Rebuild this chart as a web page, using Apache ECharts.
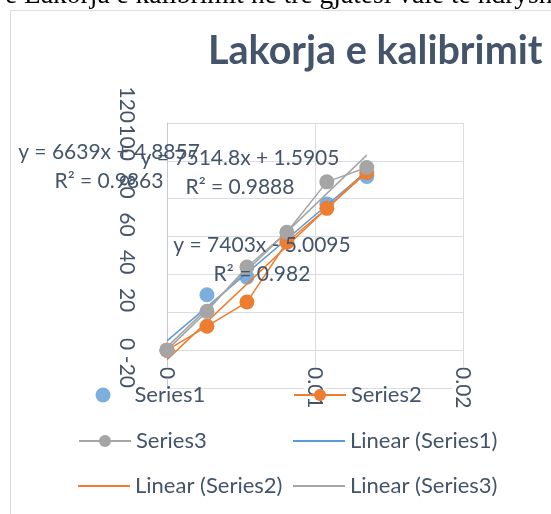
<!DOCTYPE html>
<html>
<head>
<meta charset="utf-8">
<script src="https://cdn.jsdelivr.net/npm/echarts@6/dist/echarts.min.js"></script>
<style>
  html, body { margin: 0; padding: 0; background: #fff; }
  #chart { width: 551px; height: 514px; }
</style>
</head>
<body>
<div id="chart"></div>
<script>
// Concentrations (x) and measured signals for the three wavelengths
const concentrations = [0, 0.0027, 0.0054, 0.0081, 0.0108, 0.0135];
const series1 = [0, 29.3, 38.6, 58.8, 77.2, 91.7];
const series2 = [0, 12.6, 25.4, 57.0, 74.9, 93.9];
const series3 = [0, 20.5, 43.9, 62.3, 88.9, 96.5];

// Linear trendline coefficients (y = slope * x + intercept) and R²
const trendSlopes = [6639, 7403, 7514.8];
const trendIntercepts = [4.8857, -5.0095, 1.5905];
const trendR2 = [0.9863, 0.982, 0.9888];

// Axis settings
const xMin = 0, xMax = 0.02, xStep = 0.01;
const yMin = -20, yMax = 120, yStep = 20;

const seriesNames = ['Series1', 'Series2', 'Series3'];
const trendNames = ['Linear (Series1)', 'Linear (Series2)', 'Linear (Series3)'];
const colors = ['#5B9BD5', '#ED7D31', '#A5A5A5'];
const textColor = '#44546A';
const font = 'Lato';

const pairs = ys => concentrations.map((x, i) => [x, ys[i]]);
const xFirst = concentrations[0];
const xLast = concentrations[concentrations.length - 1];
const trendData = k => [
  [xFirst, trendSlopes[k] * xFirst + trendIntercepts[k]],
  [xLast, trendSlopes[k] * xLast + trendIntercepts[k]]
];
const eqText = k => 'y = ' + trendSlopes[k] + 'x ' + (trendIntercepts[k] >= 0 ? '+ ' : '- ') +
  Math.abs(trendIntercepts[k]) + '\nR² = ' + trendR2[k];

const chart = echarts.init(document.getElementById('chart'), null, { renderer: 'canvas' });

const legendText = { fontFamily: font, fontSize: 22, color: textColor };

// legend entry for a marker + line series
const legendLine = (name, left, top) => ({
  data: [name], left: left, top: top, padding: 0,
  itemWidth: 52, itemHeight: 15, itemGap: 0, textStyle: legendText
});
// legend entry for a trendline (plain line, no marker)
const legendTrend = (name, left, top) => ({
  data: [{ name: name, icon: 'rect' }], left: left, top: top, padding: 0,
  itemWidth: 52, itemHeight: 2, itemGap: 0, textStyle: legendText
});

const option = {
  animation: false,
  backgroundColor: '#fff',
  title: {
    text: 'Lakorja e kalibrimit',
    left: 208, top: 31, padding: 0,
    textStyle: { fontFamily: font, fontSize: 39.5, fontWeight: 'bold', color: textColor }
  },
  graphic: [
    { type: 'rect', z: -10, silent: true,
      shape: { x: 10.5, y: 10.5, width: 700, height: 700 },
      style: { fill: null, stroke: '#D9DDE3', lineWidth: 1 } },
    { type: 'text', left: 5, top: -18, silent: true,
      style: { text: 'ë Lakorja e kalibrimit në tre gjatësi vale te ndryshme',
               font: '27.5px "Liberation Serif"', fill: '#000' } },
    { type: 'text', x: 109, y: 167, silent: true, z: 10,
      style: { text: eqText(0), font: '21px ' + font, fill: textColor,
               align: 'center', verticalAlign: 'middle', lineHeight: 29 } },
    { type: 'text', x: 262, y: 260, silent: true, z: 10,
      style: { text: eqText(1), font: '21px ' + font, fill: textColor,
               align: 'center', verticalAlign: 'middle', lineHeight: 29 } },
    { type: 'text', x: 240, y: 173, silent: true, z: 10,
      style: { text: eqText(2), font: '21px ' + font, fill: textColor,
               align: 'center', verticalAlign: 'middle', lineHeight: 29 } }
  ],
  grid: { left: 167, top: 123, right: 88, bottom: 126, outerBoundsMode: 'none' },
  xAxis: {
    type: 'value', min: xMin, max: xMax, interval: xStep,
    // the horizontal axis crosses the vertical one at y = 0
    offset: -38,
    axisLine: { show: true, onZero: false, lineStyle: { color: '#D9DDE3' } },
    axisTick: { show: false },
    splitLine: { show: true, lineStyle: { color: '#D9DDE3', width: 1 } },
    axisLabel: {
      rotate: -90, margin: 17, color: textColor, fontFamily: font, fontSize: 21,
      backgroundColor: '#fff', showMinLabel: true, showMaxLabel: true
    }
  },
  yAxis: {
    type: 'value', min: yMin, max: yMax, interval: yStep,
    axisLine: { show: true, lineStyle: { color: '#C4CAD3' } },
    axisTick: { show: false },
    splitLine: { show: true, lineStyle: { color: '#D9DDE3', width: 1 } },
    axisLabel: {
      rotate: -90, margin: 40, align: 'right', verticalAlign: 'middle',
      color: textColor, fontFamily: font, fontSize: 21,
      showMinLabel: true, showMaxLabel: true
    }
  },
  legend: [
    { data: [{ name: seriesNames[0], icon: 'circle' }], left: 95.5, top: 384, padding: 0,
      itemWidth: 15, itemHeight: 15, itemGap: 0,
      textStyle: Object.assign({ padding: [0, 0, 0, 19] }, legendText) },
    legendLine(seriesNames[1], 293, 384),
    legendLine(seriesNames[2], 78, 430),
    legendTrend(trendNames[0], 293, 430),
    legendTrend(trendNames[1], 78, 475),
    legendTrend(trendNames[2], 293, 475)
  ],
  series: [
    { name: seriesNames[1], type: 'line', data: pairs(series2), color: colors[1],
      symbol: 'circle', symbolSize: 15, lineStyle: { width: 1.5 } },
    { name: seriesNames[2], type: 'line', data: pairs(series3), color: colors[2],
      symbol: 'circle', symbolSize: 15, lineStyle: { width: 1.5 } },
    { name: seriesNames[0], type: 'scatter', data: pairs(series1), color: colors[0],
      symbol: 'circle', symbolSize: 15 },
    { name: trendNames[0], type: 'line', data: trendData(0), color: colors[0],
      symbol: 'none', lineStyle: { width: 1.5 }, z: 3 },
    { name: trendNames[1], type: 'line', data: trendData(1), color: colors[1],
      symbol: 'none', lineStyle: { width: 1.5 }, z: 3 },
    { name: trendNames[2], type: 'line', data: trendData(2), color: colors[2],
      symbol: 'none', lineStyle: { width: 1.5 }, z: 3 }
  ]
};

chart.setOption(option);
</script>
</body>
</html>
